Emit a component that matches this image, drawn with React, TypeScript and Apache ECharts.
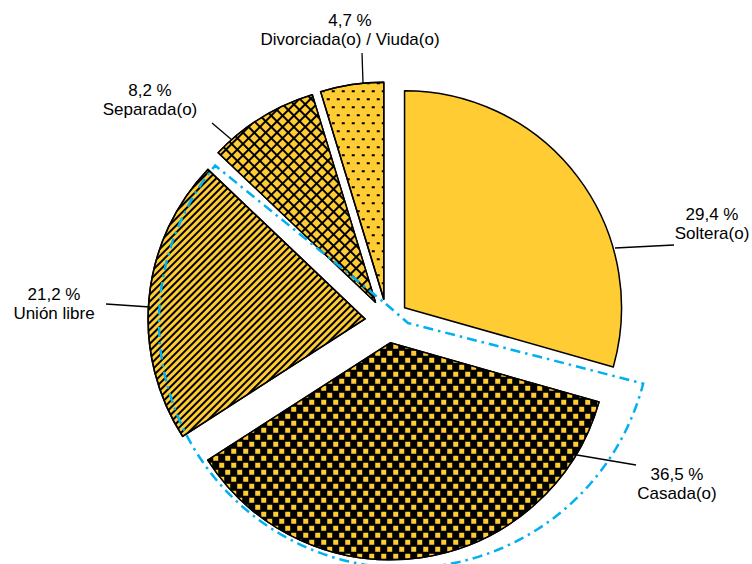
import React, { useEffect, useRef } from 'react';
import * as echarts from 'echarts';

// ---- data ----
const categories = ['Soltera(o)', 'Casada(o)', 'Unión libre', 'Separada(o)', 'Divorciada(o) / Viuda(o)'];
const values = [29.4, 36.5, 21.2, 8.2, 4.7];

// ---- layout / style ----
const CENTER = [387, 321];
const RADIUS = 217;
const OFFSET = 22;
const GOLD = '#ffcc33';
const FONT = '"Liberation Sans", Arial, sans-serif';

const labelAnchors = [
  [712, 224],
  [677, 484],
  [54, 304],
  [150, 100],
  [350, 30],
];
const leaderLines = [
  [[615, 248], [674, 245]],
  [[577, 455], [636, 465]],
  [[106, 304], [150, 307]],
  [[212, 123], [232, 140]],
  [[362, 53], [363, 83]],
];

// fill colour of each slice and its pattern overlay
const fills = [GOLD, '#000', GOLD, '#000', GOLD];
const decals: any[] = [
  null,
  {
    symbol: 'rect', symbolKeepAspect: false, color: GOLD,
    dashArrayX: [[5, 7], [0, 6, 5, 1]], dashArrayY: [5, 2],
  },
  {
    symbol: 'rect', symbolKeepAspect: false, color: '#000',
    dashArrayX: [1, 0], dashArrayY: [2, 3], rotation: -Math.PI / 4,
  },
  {
    symbol: 'rect', symbolKeepAspect: false, color: GOLD,
    dashArrayX: [6, 2], dashArrayY: [6, 2], rotation: Math.PI / 4,
  },
  {
    symbol: 'rect', symbolKeepAspect: false, color: '#000',
    dashArrayX: [[3, 7], [0, 5, 3, 2]], dashArrayY: [2, 6],
  },
];

// highlight outline (dash-dot) around Casada + Unión libre
const HL_APEX = [386, 304];
const HL_BEND = [408, 323];
const HL_CENTER = [405, 322];
const HL_R = 246;
const HL_A1 = 104.5;
const HL_A2 = 310;

function fmt(v: number) {
  return v.toFixed(1).replace('.', ',') + ' %';
}

export default function App() {
  const ref = useRef<HTMLDivElement>(null);
  useEffect(() => {
    document.body.style.margin = '0';
    const chart = echarts.init(ref.current!, null, { renderer: 'svg' });

    const arc: number[][] = [];
    for (let a = HL_A1; a <= HL_A2 + 0.001; a += 1) {
      const r = (a * Math.PI) / 180;
      arc.push([HL_CENTER[0] + HL_R * Math.sin(r), HL_CENTER[1] - HL_R * Math.cos(r)]);
    }
    const hlPoints = [HL_APEX, HL_BEND, ...arc, HL_APEX];

    const graphics: any[] = [
      {
        type: 'polyline',
        z: 100,
        silent: true,
        shape: { points: hlPoints },
        style: { stroke: '#00b0f0', lineWidth: 2.5, lineDash: [10, 5, 2.5, 5], fill: null },
      },
    ];
    categories.forEach((name, i) => {
      graphics.push({
        type: 'text',
        z: 100,
        x: labelAnchors[i][0],
        y: labelAnchors[i][1],
        style: {
          text: fmt(values[i]) + '\n' + name,
          align: 'center',
          verticalAlign: 'middle',
          fontSize: 17,
          fontFamily: FONT,
          lineHeight: 19,
          fill: '#000',
        },
      });
      const [p1, p2] = leaderLines[i];
      graphics.push({
        type: 'line',
        z: 100,
        shape: { x1: p1[0], y1: p1[1], x2: p2[0], y2: p2[1] },
        style: { stroke: '#000', lineWidth: 1.3 },
      });
    });

    chart.setOption({
      animation: false,
      tooltip: { show: false },
      graphic: graphics,
      series: [
        {
          type: 'pie',
          center: CENTER,
          radius: RADIUS,
          startAngle: 90,
          clockwise: true,
          silent: true,
          selectedMode: 'multiple',
          selectedOffset: OFFSET,
          label: { show: false },
          labelLine: { show: false },
          emphasis: { disabled: true },
          itemStyle: { borderColor: '#000', borderWidth: 1.5 },
          select: { itemStyle: { borderColor: '#000', borderWidth: 1.5 } },
          data: categories.map((name, i) => ({
            name,
            value: values[i],
            selected: true,
            itemStyle: decals[i] ? { color: fills[i], decal: decals[i] } : { color: fills[i] },
          })),
        },
      ],
    });
    return () => chart.dispose();
  }, []);
  return <div ref={ref} style={{ width: 752, height: 564 }} />;
}
